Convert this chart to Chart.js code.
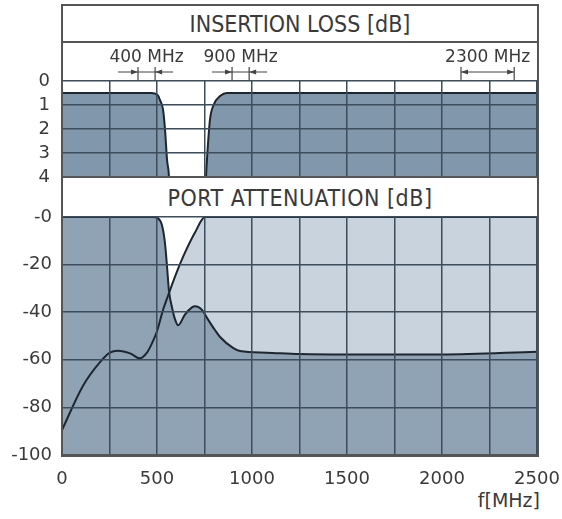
<!DOCTYPE html>
<html>
<head>
<meta charset="UTF-8">
<title>Insertion loss / port attenuation</title>
<style>
  body { margin: 0; background: #fff; font-family: "DejaVu Sans", sans-serif; color: #3a3a3a; }
  #wrap { position: relative; width: 562px; height: 519px; overflow: hidden; }
  .box { position: absolute; border: 2px solid #555; box-sizing: border-box; }
  .line { position: absolute; background: #555; height: 2px; }
  .head {
    position: absolute; left: 62px; width: 476px; text-align: center;
    font-family: "DejaVu Sans Condensed", "DejaVu Sans", sans-serif; font-stretch: condensed;
    font-size: 23px; line-height: 28px;
  }
  canvas { position: absolute; left: 0; }
</style>
<script src="https://cdn.jsdelivr.net/npm/chart.js"></script>
</head>
<body>
<div id="wrap">
  <div class="box" style="left:61px;top:4px;width:478px;height:453px"></div>
  <div class="line" style="left:61px;top:41px;width:478px"></div>
  <div class="head" style="top:10px">INSERTION LOSS [dB]</div>
  <div class="head" style="top:184px;letter-spacing:0.5px">PORT ATTENUATION [dB]</div>
  <div style="position:absolute;right:22px;top:489px;font-size:19px">f[MHz]</div>
  <canvas id="il" width="562" height="190" style="top:0"></canvas>
  <canvas id="pa" width="562" height="329" style="top:190px"></canvas>
</div>

<script>
// insertion loss (upper panel), values past 4 dB fall outside the plot (notch)
var ilFreq = [0, 250, 470, 505, 516, 532, 542, 553, 563, 580, 740, 758, 766, 779, 800, 832, 868, 1000, 2500];
var ilLoss = [0.5, 0.5, 0.5, 0.6, 0.8, 1.2, 2.0, 3.3, 4.0, 8, 8, 4.0, 2.9, 1.6, 0.96, 0.63, 0.5, 0.5, 0.5];

// port attenuation, low band port (dark)
var lpFreq = [0, 250, 480, 505, 526, 542, 553, 563, 579, 595, 611, 647, 684, 700, 737, 768, 805, 832, 900, 937, 1078, 1250, 1500, 2000, 2500];
var lpAtt = [0, 0, 0, -0.5, -3.4, -11, -21, -31, -38, -43, -45.5, -41, -38, -37.5, -39, -43, -47.5, -50.4, -55, -56.3, -57, -57.6, -57.8, -57.8, -56.6];

// port attenuation, high band port (light)
var hpFreq = [0, 110, 200, 252, 295, 358, 410, 447, 474, 500, 532, 563, 605, 647, 700, 753, 800, 1000, 2500];
var hpAtt = [-89.5, -71, -61, -57, -56.2, -57.3, -59.4, -57, -53, -48, -39, -32, -23, -15, -6.5, 0, 0, 0, 0];

var bandLabels = ['400 MHz', '900 MHz', '2300 MHz'];
var bandLow = [400, 895, 2100];
var bandHigh = [490, 985, 2380];

function pts(xs, ys) {
  return xs.map(function (x, i) { return {x: x, y: ys[i]}; });
}

var gridCol = '#3d4d5b';
var edgeCol = '#555';
var txtCol = '#3a3a3a';
var tickFont = {family: 'DejaVu Sans', size: 18};

// fixed axis sizes so both plots share the same frame
function fixX(h) {
  return function (s) { s.height = h; s.paddingLeft = 0; s.paddingRight = 0; };
}
function fixY(s) { s.width = 62; s.paddingTop = 0; s.paddingBottom = 0; }

var bandMarks = {
  id: 'bandMarks',
  afterDraw: function (chart) {
    var ctx = chart.ctx, xs = chart.scales.x;
    ctx.save();
    ctx.strokeStyle = '#444';
    ctx.lineWidth = 1.2;
    ctx.font = '17px "DejaVu Sans"';
    ctx.textAlign = 'center';
    ctx.textBaseline = 'middle';
    for (var i = 0; i < bandLabels.length; i++) {
      var a = xs.getPixelForValue(bandLow[i]);
      var b = xs.getPixelForValue(bandHigh[i]);
      ctx.fillStyle = txtCol;
      ctx.fillText(bandLabels[i], (a + b) / 2, 58);
      var narrow = b - a < 30;
      ctx.beginPath();
      ctx.moveTo(a, 67); ctx.lineTo(a, 81);
      ctx.moveTo(b, 67); ctx.lineTo(b, 81);
      if (narrow) { ctx.moveTo(a - 20, 72); ctx.lineTo(b + 18, 72); }
      else { ctx.moveTo(a, 72); ctx.lineTo(b, 72); }
      ctx.stroke();
      // arrow heads, tips on the band edges
      var d = narrow ? -1 : 1;
      ctx.fillStyle = '#444';
      ctx.beginPath();
      ctx.moveTo(a, 72); ctx.lineTo(a + d * 7, 69.5); ctx.lineTo(a + d * 7, 74.5); ctx.closePath();
      ctx.moveTo(b, 72); ctx.lineTo(b - d * 7, 69.5); ctx.lineTo(b - d * 7, 74.5); ctx.closePath();
      ctx.fill();
    }
    ctx.restore();
  }
};

new Chart(document.getElementById('il'), {
  type: 'line',
  data: {
    datasets: [{
      data: pts(ilFreq, ilLoss),
      borderColor: '#1d2630',
      borderWidth: 2,
      backgroundColor: '#8197ab',
      fill: {value: 4},
      pointRadius: 0,
      cubicInterpolationMode: 'monotone'
    }]
  },
  options: {
    responsive: false,
    animation: false,
    events: [],
    layout: {padding: {top: 81, right: 25, left: 0, bottom: 0}},
    plugins: {legend: {display: false}, tooltip: {enabled: false}},
    scales: {
      x: {
        type: 'linear', min: 0, max: 2500,
        ticks: {display: false, stepSize: 250, autoSkip: false},
        grid: {color: gridCol, lineWidth: 1.5, drawTicks: false, z: 1},
        border: {color: edgeCol, width: 2, z: 2},
        afterFit: fixX(13)
      },
      y: {
        min: 0, max: 4, reverse: true,
        ticks: {stepSize: 1, autoSkip: false, padding: 12, color: txtCol, font: tickFont},
        grid: {color: gridCol, lineWidth: 1.5, drawTicks: false, z: 1},
        border: {color: edgeCol, width: 2, z: 2},
        afterFit: fixY
      }
    }
  },
  plugins: [bandMarks]
});

new Chart(document.getElementById('pa'), {
  type: 'line',
  data: {
    datasets: [{
      data: pts(lpFreq, lpAtt),
      borderColor: '#1d2630',
      borderWidth: 2,
      backgroundColor: '#8fa3b5',
      fill: {value: -100},
      pointRadius: 0,
      cubicInterpolationMode: 'monotone'
    }, {
      data: pts(hpFreq, hpAtt),
      borderColor: '#1d2630',
      borderWidth: 2,
      backgroundColor: '#c9d3dd',
      fill: {value: -100},
      pointRadius: 0,
      cubicInterpolationMode: 'monotone'
    }]
  },
  options: {
    responsive: false,
    animation: false,
    events: [],
    layout: {padding: {top: 27, right: 25, left: 0, bottom: 0}},
    plugins: {legend: {display: false}, tooltip: {enabled: false}, filler: {drawTime: 'beforeDatasetsDraw'}},
    scales: {
      x: {
        type: 'linear', min: 0, max: 2500,
        ticks: {
          stepSize: 250, autoSkip: false, maxRotation: 0, padding: 14, color: txtCol, font: tickFont,
          callback: function (v) { return v % 500 === 0 ? v : ''; }
        },
        grid: {color: gridCol, lineWidth: 1.5, drawTicks: false, z: 1},
        border: {color: edgeCol, width: 2, z: 2},
        afterFit: fixX(64)
      },
      y: {
        min: -100, max: 0,
        ticks: {
          stepSize: 20, autoSkip: false, padding: 10, color: txtCol, font: tickFont,
          callback: function (v) { return v === 0 ? '-0' : v; }
        },
        grid: {color: gridCol, lineWidth: 1.5, drawTicks: false, z: 1},
        border: {color: edgeCol, width: 2, z: 2},
        afterFit: fixY
      }
    }
  }
});
</script>
</body>
</html>
